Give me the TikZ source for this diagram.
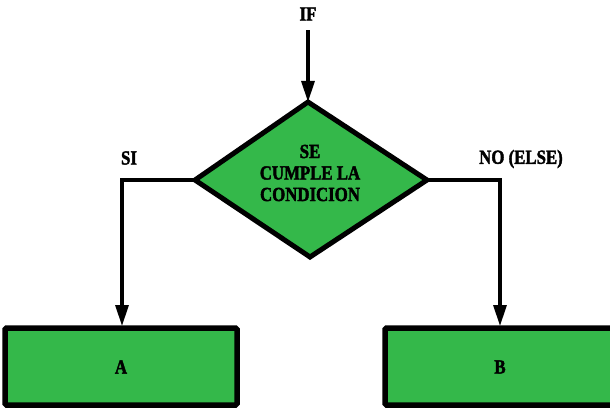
\documentclass[tikz,border=0pt]{standalone}
\usepackage{fontspec}
\setmainfont{Liberation Serif}[BoldFeatures={FakeStretch=0.84,FakeBold=2}]
\usetikzlibrary{shapes.geometric,arrows.meta}

\definecolor{hojaverde}{RGB}{52,184,74}

\begin{document}
\begin{tikzpicture}[x=1pt,y=-1pt,
    txt/.style={font=\bfseries\fontsize{20}{21.5}\selectfont},
    caja/.style={draw=black,fill=hojaverde,line width=5.5pt,rounded corners=1.5pt},
    flecha/.style={line width=3.2pt,-{Triangle[length=21pt,width=13pt]}}]
  \useasboundingbox (0,0) rectangle (610,409);
  \clip (0,0) rectangle (610,409);

  % Entry label
  \node[txt] (if) at (308,14) {IF};

  % Decision diamond
  \draw[caja,rounded corners=0pt,line width=5pt,line join=miter]
    (308,102) coordinate (top) -- (427,180) coordinate (der)
    -- (310,257) -- (195,180) coordinate (izq) -- cycle;
  \node[txt,align=center] (cond) at (310,173) {SE\\CUMPLE LA\\CONDICION};

  % Both outcome boxes
  \draw[caja] (5,328) rectangle (237,405);
  \node[txt] (a) at (121,367) {A};
  \draw[caja] (385,328) rectangle (625,405);
  \node[txt] (b) at (500,367) {B};
  \coordinate (atop) at (122,326);
  \coordinate (btop) at (500,326);

  % Branch labels
  \node[txt] (si) at (129,158) {SI};
  \node[txt] (no) at (521,159) {NO (ELSE)};

  % Connectors
  \draw[flecha] (if.south) ++(0,6) -- (top);
  \draw[flecha] (izq) -| (atop);
  \draw[flecha] (der) -| (btop);
\end{tikzpicture}
\end{document}
